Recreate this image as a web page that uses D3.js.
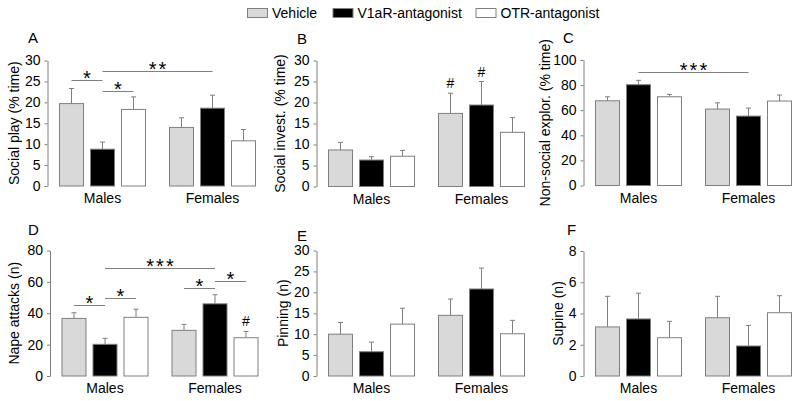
<!DOCTYPE html>
<html><head><meta charset="utf-8">
<script src="https://cdn.jsdelivr.net/npm/d3@7"></script>
<style>
html,body{margin:0;padding:0;background:#fff;}
svg{display:block;font-family:"Liberation Sans",Arial,sans-serif;}
</style></head>
<body>
<svg id="chart" width="800" height="401"></svg>
<script>
// ---------- DATA ----------
const groups = ["Males", "Females"];
const treatments = ["Vehicle", "V1aR-antagonist", "OTR-antagonist"];
const fills = ["#d9d9d9", "#000000", "#ffffff"];

// order: Males(Vehicle, V1aR, OTR), Females(Vehicle, V1aR, OTR)
const socialPlayMean = [19.7, 8.8, 18.3, 14.0, 18.6, 10.8];
const socialPlaySem  = [3.6, 1.7, 3.0, 2.3, 3.1, 2.7];
const socialInvMean  = [8.7, 6.3, 7.2, 17.4, 19.4, 12.9];
const socialInvSem   = [1.8, 0.8, 1.4, 4.8, 5.6, 3.5];
const nonSocialMean  = [67.5, 80.3, 70.7, 60.9, 55.3, 67.3];
const nonSocialSem   = [3.2, 3.5, 1.9, 5.0, 6.4, 4.8];
const napeMean       = [36.7, 20.2, 37.4, 29.1, 46.0, 24.4];
const napeSem        = [3.6, 3.8, 5.2, 3.8, 5.8, 4.0];
const pinningMean    = [10.0, 5.8, 12.4, 14.5, 20.8, 10.1];
const pinningSem     = [2.8, 2.3, 3.8, 3.9, 5.0, 3.2];
const supineMean     = [3.14, 3.65, 2.45, 3.73, 1.92, 4.05];
const supineSem      = [1.96, 1.65, 1.05, 1.37, 1.32, 1.09];

const ticksA = [0, 5, 10, 15, 20, 25, 30];
const ticksC = [0, 20, 40, 60, 80, 100];
const ticksD = [0, 20, 40, 60, 80];
const ticksF = [0, 2, 4, 6, 8];

// significance bars: [fromIndex, toIndex, yValue, label]
const sigA = [[0, 1, 25.4, "*"], [1, 2, 22.7, "*"], [1, 4, 27.6, "**"]];
const sigC = [[1, 4, 90.7, "***"]];
const sigD = [[0, 1, 45.2, "*"], [1, 2, 49.5, "*"], [1, 4, 68.6, "***"], [3, 4, 56.2, "*"], [4, 5, 60.5, "*"]];
// hash marks: [index, label]
const hashB = [[3, "#"], [4, "#"]];
const hashD = [[5, "#"]];

// ---------- LAYOUT ----------
const panels = [
  {letter: "A", title: "Social play (% time)", mean: socialPlayMean, sem: socialPlaySem, ticks: ticksA,
   ax: 47.5, y0: 186, y1: 60.5, titleX: 14, letterX: 28, letterY: 43, sig: sigA, hash: []},
  {letter: "B", title: "Social invest. (% time)", mean: socialInvMean, sem: socialInvSem, ticks: ticksA,
   ax: 316.5, y0: 186.5, y1: 60.5, titleX: 280, letterX: 297, letterY: 44, sig: [], hash: hashB},
  {letter: "C", title: "Non-social explor. (% time)", mean: nonSocialMean, sem: nonSocialSem, ticks: ticksC,
   ax: 583.5, y0: 185.5, y1: 60, titleX: 545, letterX: 563, letterY: 43, sig: sigC, hash: []},
  {letter: "D", title: "Nape attacks (n)", mean: napeMean, sem: napeSem, ticks: ticksD,
   ax: 50, y0: 376, y1: 250.5, titleX: 14, letterX: 28, letterY: 235, sig: sigD, hash: hashD},
  {letter: "E", title: "Pinning (n)", mean: pinningMean, sem: pinningSem, ticks: ticksA,
   ax: 316.5, y0: 376, y1: 250.5, titleX: 283, letterX: 297, letterY: 241, sig: [], hash: []},
  {letter: "F", title: "Supine (n)", mean: supineMean, sem: supineSem, ticks: ticksF,
   ax: 583.5, y0: 376, y1: 251, titleX: 558, letterX: 567, letterY: 235, sig: [], hash: []}
];

const svg = d3.select("#chart");
const gray = "#7f7f7f";

panels.forEach(p => {
  const g = svg.append("g");
  const y = d3.scaleLinear().domain([0, p.ticks[p.ticks.length - 1]]).range([p.y0, p.y1]);
  const xg = d3.scaleBand().domain(groups).range([p.ax + 11.5, p.ax + 11.5 + 197]).paddingInner(23 / 110).paddingOuter(0);
  const xt = d3.scaleBand().domain(treatments).range([0, xg.bandwidth()]).paddingInner(6 / 31).paddingOuter(0);

  const rows = p.mean.map((m, i) => ({
    group: groups[Math.floor(i / 3)], treat: treatments[i % 3], ti: i % 3, mean: m, sem: p.sem[i]
  }));
  const cx = i => xg(rows[i].group) + xt(rows[i].treat) + xt.bandwidth() / 2;

  // axis
  const axis = d3.axisLeft(y).tickValues(p.ticks).tickSize(3).tickSizeOuter(0).tickPadding(4);
  const ag = g.append("g").attr("transform", `translate(${p.ax},0)`).call(axis);
  ag.select(".domain").attr("stroke", gray);
  ag.selectAll(".tick line").attr("stroke", gray);
  ag.selectAll(".tick text").attr("fill", "#000").style("font-size", "14px")
    .style("font-family", "'Liberation Sans',Arial,sans-serif");

  // error bars
  rows.forEach((r, i) => {
    const x = cx(i);
    g.append("line").attr("x1", x).attr("x2", x).attr("y1", y(r.mean)).attr("y2", y(r.mean + r.sem))
      .attr("stroke", gray).attr("stroke-width", 1);
    g.append("line").attr("x1", x - 2.5).attr("x2", x + 2.5).attr("y1", y(r.mean + r.sem)).attr("y2", y(r.mean + r.sem))
      .attr("stroke", gray).attr("stroke-width", 1);
  });

  // bars
  g.selectAll("rect.bar").data(rows).join("rect").attr("class", "bar")
    .attr("x", d => xg(d.group) + xt(d.treat) + 0.5)
    .attr("width", xt.bandwidth() - 1)
    .attr("y", d => y(d.mean))
    .attr("height", d => y(0) - y(d.mean))
    .attr("fill", d => fills[d.ti])
    .attr("stroke", gray).attr("stroke-width", 1);

  // group labels
  groups.forEach(gr => {
    g.append("text").attr("x", xg(gr) + xt("V1aR-antagonist") + xt.bandwidth() / 2).attr("y", p.y0 + 17)
      .attr("text-anchor", "middle").style("font-size", "14px").text(gr);
  });

  // y title
  g.append("text").attr("transform", `translate(${p.titleX},${(p.y0 + p.y1) / 2}) rotate(-90)`)
    .attr("dy", "0.35em").attr("text-anchor", "middle").style("font-size", "14px").text(p.title);

  // letter
  g.append("text").attr("x", p.letterX).attr("y", p.letterY).style("font-size", "15px").text(p.letter);

  // significance
  p.sig.forEach(s => {
    const x1 = cx(s[0]), x2 = cx(s[1]), yy = Math.round(y(s[2])) + 0.5;
    g.append("line").attr("x1", x1).attr("x2", x2).attr("y1", yy).attr("y2", yy).attr("stroke", gray);
    const n = s[3].length;
    g.append("text").attr("x", (x1 + x2) / 2 + 1).attr("y", yy + 4.5).attr("text-anchor", "middle")
      .style("font-size", "20px").style("letter-spacing", "2px").text(s[3]);
  });
  p.hash.forEach(h => {
    const r = rows[h[0]];
    g.append("text").attr("x", cx(h[0])).attr("y", y(r.mean + r.sem) - 5).attr("text-anchor", "middle")
      .style("font-size", "14px").text(h[1]);
  });
});

// legend
const legendX = [247.5, 333, 476];
treatments.forEach((t, i) => {
  svg.append("rect").attr("x", legendX[i]).attr("y", 8.5).attr("width", 20).attr("height", 9)
    .attr("fill", fills[i]).attr("stroke", gray);
  svg.append("text").attr("x", legendX[i] + 24.5).attr("y", 18).style("font-size", "14px").text(t);
});
</script>
</body></html>
